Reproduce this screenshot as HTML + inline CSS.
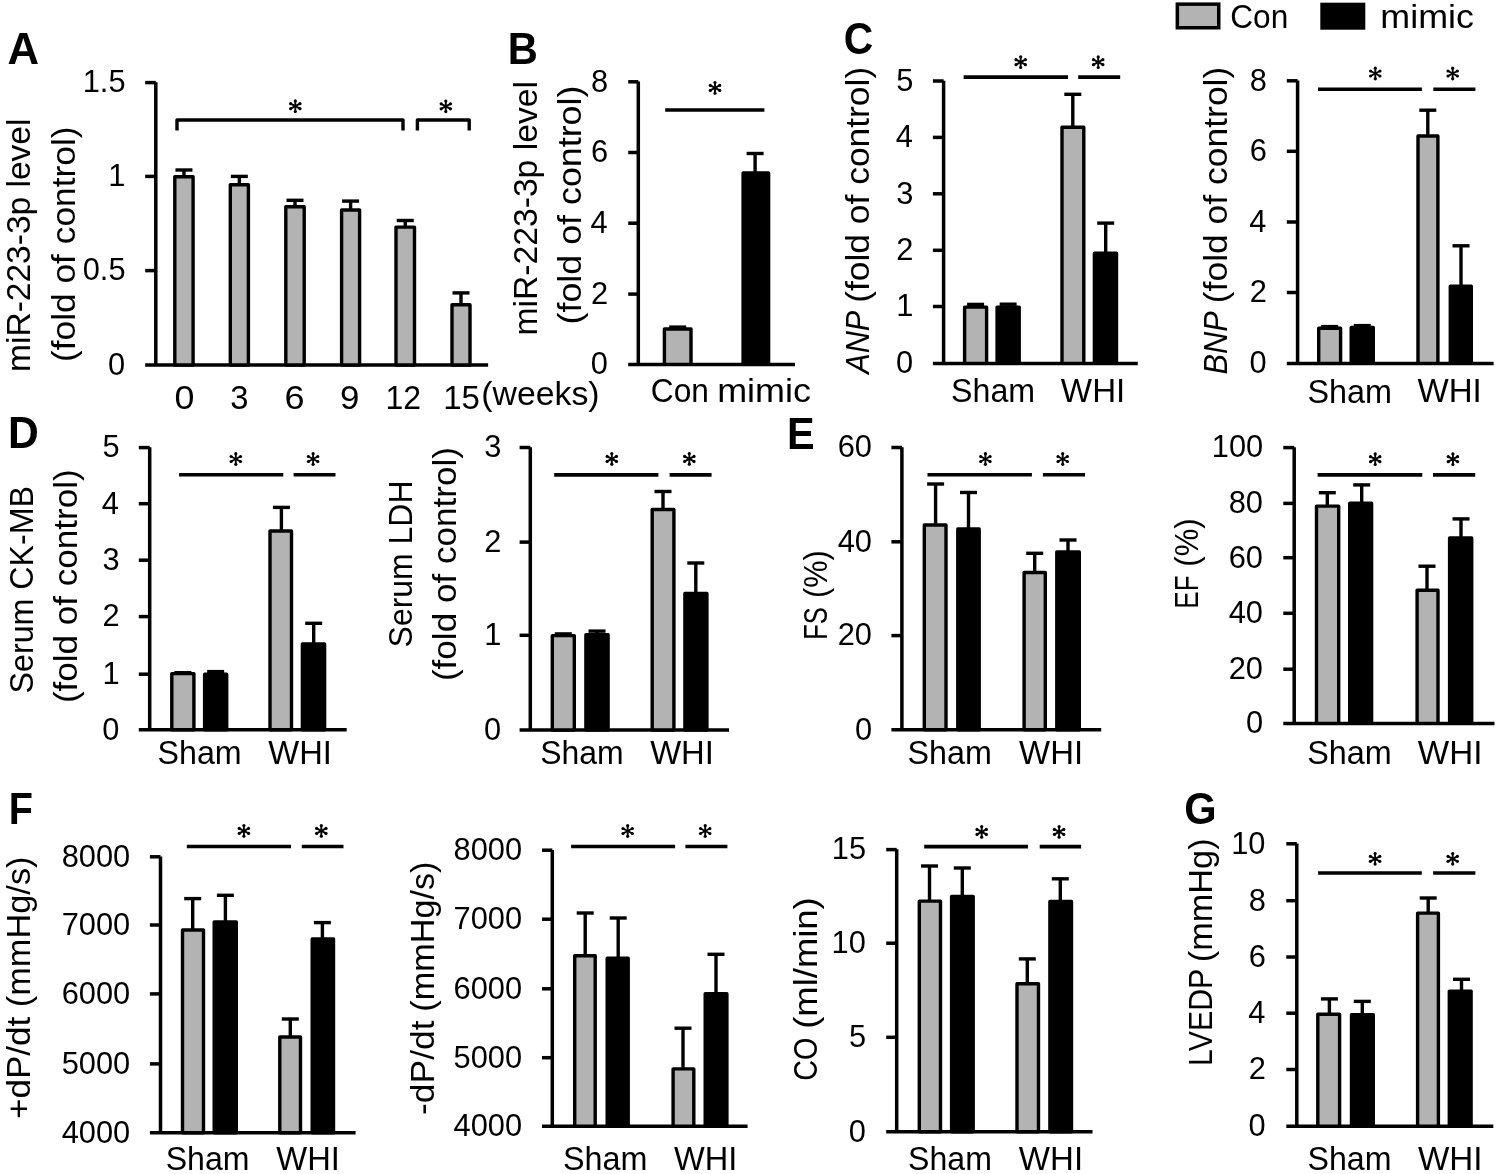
<!DOCTYPE html>
<html><head><meta charset="utf-8"><style>
html,body{margin:0;padding:0;background:#fff;}
svg{display:block;will-change:transform;}
</style></head><body>
<svg width="1497" height="1174" viewBox="0 0 1497 1174" style="font-family:'Liberation Sans', sans-serif;" fill="#000">
<text x="7.59" y="63.90" font-size="43.6" font-weight="bold" textLength="31.62" lengthAdjust="spacingAndGlyphs">A</text>
<text x="507.79" y="63.60" font-size="43.6" font-weight="bold" textLength="30.07" lengthAdjust="spacingAndGlyphs">B</text>
<text x="843.77" y="53.60" font-size="43.6" font-weight="bold" textLength="29.44" lengthAdjust="spacingAndGlyphs">C</text>
<text x="8.12" y="448.30" font-size="43.6" font-weight="bold" textLength="30.78" lengthAdjust="spacingAndGlyphs">D</text>
<text x="787.00" y="448.50" font-size="43.6" font-weight="bold" textLength="27.63" lengthAdjust="spacingAndGlyphs">E</text>
<text x="8.73" y="823.60" font-size="43.6" font-weight="bold" textLength="24.19" lengthAdjust="spacingAndGlyphs">F</text>
<text x="1184.14" y="823.60" font-size="43.6" font-weight="bold" textLength="32.37" lengthAdjust="spacingAndGlyphs">G</text>
<line stroke="#000" x1="155.80" y1="82.30" x2="155.80" y2="365.00" stroke-width="3.5" stroke-linecap="butt"/>
<line stroke="#000" x1="145.20" y1="82.60" x2="155.80" y2="82.60" stroke-width="3.5" stroke-linecap="butt"/>
<line stroke="#000" x1="145.20" y1="176.40" x2="155.80" y2="176.40" stroke-width="3.5" stroke-linecap="butt"/>
<line stroke="#000" x1="145.20" y1="270.60" x2="155.80" y2="270.60" stroke-width="3.5" stroke-linecap="butt"/>
<line stroke="#000" x1="145.20" y1="365.00" x2="488.10" y2="365.00" stroke-width="3.5" stroke-linecap="butt"/>
<text x="125.54" y="92.40" font-size="30.8" text-anchor="end">1.5</text>
<text x="125.42" y="186.20" font-size="30.8" text-anchor="end">1</text>
<text x="125.54" y="280.40" font-size="30.8" text-anchor="end">0.5</text>
<text x="125.11" y="374.80" font-size="30.8" text-anchor="end">0</text>
<line stroke="#000" x1="183.95" y1="176.10" x2="183.95" y2="170.00" stroke-width="3.4" stroke-linecap="butt"/>
<line stroke="#000" x1="175.45" y1="170.00" x2="192.45" y2="170.00" stroke-width="3.4" stroke-linecap="butt"/>
<rect x="174.80" y="176.80" width="18.30" height="188.20" fill="#b3b3b3" stroke="#000" stroke-width="3.4" stroke-linejoin="round"/>
<line stroke="#000" x1="239.35" y1="184.00" x2="239.35" y2="176.40" stroke-width="3.4" stroke-linecap="butt"/>
<line stroke="#000" x1="230.85" y1="176.40" x2="247.85" y2="176.40" stroke-width="3.4" stroke-linecap="butt"/>
<rect x="230.30" y="184.70" width="18.10" height="180.30" fill="#b3b3b3" stroke="#000" stroke-width="3.4" stroke-linejoin="round"/>
<line stroke="#000" x1="295.00" y1="206.10" x2="295.00" y2="200.30" stroke-width="3.4" stroke-linecap="butt"/>
<line stroke="#000" x1="286.50" y1="200.30" x2="303.50" y2="200.30" stroke-width="3.4" stroke-linecap="butt"/>
<rect x="285.80" y="206.80" width="18.40" height="158.20" fill="#b3b3b3" stroke="#000" stroke-width="3.4" stroke-linejoin="round"/>
<line stroke="#000" x1="350.60" y1="209.30" x2="350.60" y2="201.10" stroke-width="3.4" stroke-linecap="butt"/>
<line stroke="#000" x1="342.10" y1="201.10" x2="359.10" y2="201.10" stroke-width="3.4" stroke-linecap="butt"/>
<rect x="341.60" y="210.00" width="18.00" height="155.00" fill="#b3b3b3" stroke="#000" stroke-width="3.4" stroke-linejoin="round"/>
<line stroke="#000" x1="405.25" y1="226.40" x2="405.25" y2="220.50" stroke-width="3.4" stroke-linecap="butt"/>
<line stroke="#000" x1="396.75" y1="220.50" x2="413.75" y2="220.50" stroke-width="3.4" stroke-linecap="butt"/>
<rect x="396.00" y="227.10" width="18.50" height="137.90" fill="#b3b3b3" stroke="#000" stroke-width="3.4" stroke-linejoin="round"/>
<line stroke="#000" x1="461.00" y1="304.00" x2="461.00" y2="292.90" stroke-width="3.4" stroke-linecap="butt"/>
<line stroke="#000" x1="452.50" y1="292.90" x2="469.50" y2="292.90" stroke-width="3.4" stroke-linecap="butt"/>
<rect x="452.00" y="304.70" width="18.00" height="60.30" fill="#b3b3b3" stroke="#000" stroke-width="3.4" stroke-linejoin="round"/>
<path d="M177,130.6 V120 H403 V130.6" fill="none" stroke="#000" stroke-width="3.4" stroke-linejoin="round"/>
<path d="M417.4,130.6 V120 H469.2 V130.6" fill="none" stroke="#000" stroke-width="3.4" stroke-linejoin="round"/>
<line stroke="#000" x1="295.30" y1="100.90" x2="295.30" y2="111.50" stroke-width="1.9" stroke-linecap="round"/>
<circle cx="295.30" cy="100.90" r="1.6"/><circle cx="295.30" cy="111.50" r="1.6"/>
<line stroke="#000" x1="290.62" y1="103.71" x2="299.98" y2="108.69" stroke-width="1.9" stroke-linecap="round"/>
<circle cx="290.62" cy="103.71" r="1.6"/><circle cx="299.98" cy="108.69" r="1.6"/>
<line stroke="#000" x1="290.62" y1="108.69" x2="299.98" y2="103.71" stroke-width="1.9" stroke-linecap="round"/>
<circle cx="290.62" cy="108.69" r="1.6"/><circle cx="299.98" cy="103.71" r="1.6"/>
<line stroke="#000" x1="445.80" y1="101.00" x2="445.80" y2="111.60" stroke-width="1.9" stroke-linecap="round"/>
<circle cx="445.80" cy="101.00" r="1.6"/><circle cx="445.80" cy="111.60" r="1.6"/>
<line stroke="#000" x1="441.12" y1="103.81" x2="450.48" y2="108.79" stroke-width="1.9" stroke-linecap="round"/>
<circle cx="441.12" cy="103.81" r="1.6"/><circle cx="450.48" cy="108.79" r="1.6"/>
<line stroke="#000" x1="441.12" y1="108.79" x2="450.48" y2="103.81" stroke-width="1.9" stroke-linecap="round"/>
<circle cx="441.12" cy="108.79" r="1.6"/><circle cx="450.48" cy="103.81" r="1.6"/>
<text x="174.57" y="408.60" font-size="33" textLength="19.93" lengthAdjust="spacingAndGlyphs">0</text>
<text x="230.29" y="408.60" font-size="33" textLength="18.22" lengthAdjust="spacingAndGlyphs">3</text>
<text x="284.50" y="408.60" font-size="33" textLength="20.07" lengthAdjust="spacingAndGlyphs">6</text>
<text x="339.96" y="408.60" font-size="33" textLength="19.34" lengthAdjust="spacingAndGlyphs">9</text>
<text x="385.44" y="408.60" font-size="33" textLength="35.61" lengthAdjust="spacingAndGlyphs">12</text>
<text x="443.16" y="408.60" font-size="33" textLength="36.74" lengthAdjust="spacingAndGlyphs">15</text>
<text x="481.37" y="405.00" font-size="33" textLength="118.26" lengthAdjust="spacingAndGlyphs">(weeks)</text>
<text transform="translate(30.40,369.60) rotate(-90)" x="-2.35" y="0" font-size="34" textLength="253.40" lengthAdjust="spacingAndGlyphs">miR-223-3p level</text>
<text transform="translate(74.70,360.00) rotate(-90)" x="-2.12" y="0" font-size="34" textLength="235.70" lengthAdjust="spacingAndGlyphs">(fold of control)</text>
<line stroke="#000" x1="638.30" y1="81.50" x2="638.30" y2="364.40" stroke-width="3.5" stroke-linecap="butt"/>
<line stroke="#000" x1="628.20" y1="81.80" x2="638.30" y2="81.80" stroke-width="3.5" stroke-linecap="butt"/>
<line stroke="#000" x1="628.20" y1="152.50" x2="638.30" y2="152.50" stroke-width="3.5" stroke-linecap="butt"/>
<line stroke="#000" x1="628.20" y1="223.20" x2="638.30" y2="223.20" stroke-width="3.5" stroke-linecap="butt"/>
<line stroke="#000" x1="628.20" y1="294.10" x2="638.30" y2="294.10" stroke-width="3.5" stroke-linecap="butt"/>
<line stroke="#000" x1="628.20" y1="364.40" x2="795.00" y2="364.40" stroke-width="3.5" stroke-linecap="butt"/>
<text x="608.22" y="91.60" font-size="30.8" text-anchor="end">8</text>
<text x="608.22" y="162.30" font-size="30.8" text-anchor="end">6</text>
<text x="607.60" y="233.00" font-size="30.8" text-anchor="end">4</text>
<text x="608.22" y="303.90" font-size="30.8" text-anchor="end">2</text>
<text x="607.91" y="374.20" font-size="30.8" text-anchor="end">0</text>
<line stroke="#000" x1="677.70" y1="328.30" x2="677.70" y2="327.10" stroke-width="3.4" stroke-linecap="butt"/>
<line stroke="#000" x1="669.20" y1="327.10" x2="686.20" y2="327.10" stroke-width="3.4" stroke-linecap="butt"/>
<rect x="664.40" y="329.00" width="26.60" height="35.40" fill="#b3b3b3" stroke="#000" stroke-width="3.4" stroke-linejoin="round"/>
<line stroke="#000" x1="755.10" y1="172.20" x2="755.10" y2="153.50" stroke-width="3.4" stroke-linecap="butt"/>
<line stroke="#000" x1="746.60" y1="153.50" x2="763.60" y2="153.50" stroke-width="3.4" stroke-linecap="butt"/>
<rect x="743.10" y="172.90" width="25.50" height="191.50" fill="#000" stroke="#000" stroke-width="3.4" stroke-linejoin="round"/>
<line stroke="#000" x1="665.20" y1="110.00" x2="764.40" y2="110.00" stroke-width="3.6" stroke-linecap="butt"/>
<line stroke="#000" x1="715.00" y1="82.60" x2="715.00" y2="93.20" stroke-width="1.9" stroke-linecap="round"/>
<circle cx="715.00" cy="82.60" r="1.6"/><circle cx="715.00" cy="93.20" r="1.6"/>
<line stroke="#000" x1="710.32" y1="85.41" x2="719.68" y2="90.39" stroke-width="1.9" stroke-linecap="round"/>
<circle cx="710.32" cy="85.41" r="1.6"/><circle cx="719.68" cy="90.39" r="1.6"/>
<line stroke="#000" x1="710.32" y1="90.39" x2="719.68" y2="85.41" stroke-width="1.9" stroke-linecap="round"/>
<circle cx="710.32" cy="90.39" r="1.6"/><circle cx="719.68" cy="85.41" r="1.6"/>
<text x="650.82" y="402.30" font-size="33" textLength="58.12" lengthAdjust="spacingAndGlyphs">Con</text>
<text x="717.18" y="402.30" font-size="33" textLength="93.80" lengthAdjust="spacingAndGlyphs">mimic</text>
<text transform="translate(537.10,333.20) rotate(-90)" x="-2.36" y="0" font-size="34" textLength="254.51" lengthAdjust="spacingAndGlyphs">miR-223-3p level</text>
<text transform="translate(581.40,322.30) rotate(-90)" x="-2.15" y="0" font-size="34" textLength="238.86" lengthAdjust="spacingAndGlyphs">(fold of control)</text>
<line stroke="#000" x1="943.60" y1="80.70" x2="943.60" y2="363.40" stroke-width="3.5" stroke-linecap="butt"/>
<line stroke="#000" x1="932.90" y1="81.00" x2="943.60" y2="81.00" stroke-width="3.5" stroke-linecap="butt"/>
<line stroke="#000" x1="932.90" y1="137.40" x2="943.60" y2="137.40" stroke-width="3.5" stroke-linecap="butt"/>
<line stroke="#000" x1="932.90" y1="193.80" x2="943.60" y2="193.80" stroke-width="3.5" stroke-linecap="butt"/>
<line stroke="#000" x1="932.90" y1="250.30" x2="943.60" y2="250.30" stroke-width="3.5" stroke-linecap="butt"/>
<line stroke="#000" x1="932.90" y1="306.50" x2="943.60" y2="306.50" stroke-width="3.5" stroke-linecap="butt"/>
<line stroke="#000" x1="932.90" y1="363.40" x2="1137.80" y2="363.40" stroke-width="3.5" stroke-linecap="butt"/>
<text x="913.42" y="90.80" font-size="30.8" text-anchor="end">5</text>
<text x="912.80" y="147.20" font-size="30.8" text-anchor="end">4</text>
<text x="913.42" y="203.60" font-size="30.8" text-anchor="end">3</text>
<text x="913.42" y="260.10" font-size="30.8" text-anchor="end">2</text>
<text x="913.42" y="316.30" font-size="30.8" text-anchor="end">1</text>
<text x="913.11" y="373.20" font-size="30.8" text-anchor="end">0</text>
<line stroke="#000" x1="975.60" y1="306.40" x2="975.60" y2="304.40" stroke-width="3.4" stroke-linecap="butt"/>
<line stroke="#000" x1="967.10" y1="304.40" x2="984.10" y2="304.40" stroke-width="3.4" stroke-linecap="butt"/>
<rect x="964.60" y="307.10" width="22.00" height="56.30" fill="#b3b3b3" stroke="#000" stroke-width="3.4" stroke-linejoin="round"/>
<line stroke="#000" x1="1008.15" y1="306.40" x2="1008.15" y2="304.20" stroke-width="3.4" stroke-linecap="butt"/>
<line stroke="#000" x1="999.65" y1="304.20" x2="1016.65" y2="304.20" stroke-width="3.4" stroke-linecap="butt"/>
<rect x="997.10" y="307.10" width="22.10" height="56.30" fill="#000" stroke="#000" stroke-width="3.4" stroke-linejoin="round"/>
<line stroke="#000" x1="1072.80" y1="126.50" x2="1072.80" y2="94.30" stroke-width="3.4" stroke-linecap="butt"/>
<line stroke="#000" x1="1064.30" y1="94.30" x2="1081.30" y2="94.30" stroke-width="3.4" stroke-linecap="butt"/>
<rect x="1062.00" y="127.20" width="21.80" height="236.20" fill="#b3b3b3" stroke="#000" stroke-width="3.4" stroke-linejoin="round"/>
<line stroke="#000" x1="1105.70" y1="252.50" x2="1105.70" y2="223.10" stroke-width="3.4" stroke-linecap="butt"/>
<line stroke="#000" x1="1097.20" y1="223.10" x2="1114.20" y2="223.10" stroke-width="3.4" stroke-linecap="butt"/>
<rect x="1094.40" y="253.20" width="22.10" height="110.20" fill="#000" stroke="#000" stroke-width="3.4" stroke-linejoin="round"/>
<line stroke="#000" x1="963.60" y1="77.10" x2="1068.00" y2="77.10" stroke-width="3.6" stroke-linecap="butt"/>
<line stroke="#000" x1="1078.20" y1="77.10" x2="1120.20" y2="77.10" stroke-width="3.6" stroke-linecap="butt"/>
<line stroke="#000" x1="1020.70" y1="56.90" x2="1020.70" y2="67.50" stroke-width="1.9" stroke-linecap="round"/>
<circle cx="1020.70" cy="56.90" r="1.6"/><circle cx="1020.70" cy="67.50" r="1.6"/>
<line stroke="#000" x1="1016.02" y1="59.71" x2="1025.38" y2="64.69" stroke-width="1.9" stroke-linecap="round"/>
<circle cx="1016.02" cy="59.71" r="1.6"/><circle cx="1025.38" cy="64.69" r="1.6"/>
<line stroke="#000" x1="1016.02" y1="64.69" x2="1025.38" y2="59.71" stroke-width="1.9" stroke-linecap="round"/>
<circle cx="1016.02" cy="64.69" r="1.6"/><circle cx="1025.38" cy="59.71" r="1.6"/>
<line stroke="#000" x1="1098.20" y1="56.90" x2="1098.20" y2="67.50" stroke-width="1.9" stroke-linecap="round"/>
<circle cx="1098.20" cy="56.90" r="1.6"/><circle cx="1098.20" cy="67.50" r="1.6"/>
<line stroke="#000" x1="1093.52" y1="59.71" x2="1102.88" y2="64.69" stroke-width="1.9" stroke-linecap="round"/>
<circle cx="1093.52" cy="59.71" r="1.6"/><circle cx="1102.88" cy="64.69" r="1.6"/>
<line stroke="#000" x1="1093.52" y1="64.69" x2="1102.88" y2="59.71" stroke-width="1.9" stroke-linecap="round"/>
<circle cx="1093.52" cy="64.69" r="1.6"/><circle cx="1102.88" cy="59.71" r="1.6"/>
<text x="951.09" y="402.10" font-size="33" textLength="84.01" lengthAdjust="spacingAndGlyphs">Sham</text>
<text x="1060.87" y="402.20" font-size="33" textLength="64.41" lengthAdjust="spacingAndGlyphs">WHI</text>
<text transform="translate(869.30,375.30) rotate(-90)" x="1.53" y="0" font-size="34" font-style="italic" textLength="63.06" lengthAdjust="spacingAndGlyphs">ANP</text>
<text transform="translate(869.30,300.70) rotate(-90)" x="-2.12" y="0" font-size="34" textLength="236.01" lengthAdjust="spacingAndGlyphs">(fold of control)</text>
<line stroke="#000" x1="1297.60" y1="80.50" x2="1297.60" y2="363.40" stroke-width="3.5" stroke-linecap="butt"/>
<line stroke="#000" x1="1286.80" y1="80.80" x2="1297.60" y2="80.80" stroke-width="3.5" stroke-linecap="butt"/>
<line stroke="#000" x1="1286.80" y1="151.30" x2="1297.60" y2="151.30" stroke-width="3.5" stroke-linecap="butt"/>
<line stroke="#000" x1="1286.80" y1="222.00" x2="1297.60" y2="222.00" stroke-width="3.5" stroke-linecap="butt"/>
<line stroke="#000" x1="1286.80" y1="292.50" x2="1297.60" y2="292.50" stroke-width="3.5" stroke-linecap="butt"/>
<line stroke="#000" x1="1286.80" y1="363.40" x2="1493.60" y2="363.40" stroke-width="3.5" stroke-linecap="butt"/>
<text x="1266.92" y="90.60" font-size="30.8" text-anchor="end">8</text>
<text x="1266.92" y="161.10" font-size="30.8" text-anchor="end">6</text>
<text x="1266.30" y="231.80" font-size="30.8" text-anchor="end">4</text>
<text x="1266.92" y="302.30" font-size="30.8" text-anchor="end">2</text>
<text x="1266.61" y="373.20" font-size="30.8" text-anchor="end">0</text>
<line stroke="#000" x1="1329.65" y1="327.60" x2="1329.65" y2="326.60" stroke-width="3.4" stroke-linecap="butt"/>
<line stroke="#000" x1="1321.15" y1="326.60" x2="1338.15" y2="326.60" stroke-width="3.4" stroke-linecap="butt"/>
<rect x="1318.70" y="328.30" width="21.90" height="35.10" fill="#b3b3b3" stroke="#000" stroke-width="3.4" stroke-linejoin="round"/>
<line stroke="#000" x1="1362.25" y1="326.70" x2="1362.25" y2="325.60" stroke-width="3.4" stroke-linecap="butt"/>
<line stroke="#000" x1="1353.75" y1="325.60" x2="1370.75" y2="325.60" stroke-width="3.4" stroke-linecap="butt"/>
<rect x="1351.20" y="327.40" width="22.10" height="36.00" fill="#000" stroke="#000" stroke-width="3.4" stroke-linejoin="round"/>
<line stroke="#000" x1="1427.80" y1="135.30" x2="1427.80" y2="110.20" stroke-width="3.4" stroke-linecap="butt"/>
<line stroke="#000" x1="1419.30" y1="110.20" x2="1436.30" y2="110.20" stroke-width="3.4" stroke-linecap="butt"/>
<rect x="1418.00" y="136.00" width="19.90" height="227.40" fill="#b3b3b3" stroke="#000" stroke-width="3.4" stroke-linejoin="round"/>
<line stroke="#000" x1="1461.00" y1="285.40" x2="1461.00" y2="245.80" stroke-width="3.4" stroke-linecap="butt"/>
<line stroke="#000" x1="1452.50" y1="245.80" x2="1469.50" y2="245.80" stroke-width="3.4" stroke-linecap="butt"/>
<rect x="1450.30" y="286.10" width="21.00" height="77.30" fill="#000" stroke="#000" stroke-width="3.4" stroke-linejoin="round"/>
<line stroke="#000" x1="1318.00" y1="89.20" x2="1421.90" y2="89.20" stroke-width="3.6" stroke-linecap="butt"/>
<line stroke="#000" x1="1433.30" y1="89.20" x2="1475.40" y2="89.20" stroke-width="3.6" stroke-linecap="butt"/>
<line stroke="#000" x1="1375.30" y1="68.20" x2="1375.30" y2="78.80" stroke-width="1.9" stroke-linecap="round"/>
<circle cx="1375.30" cy="68.20" r="1.6"/><circle cx="1375.30" cy="78.80" r="1.6"/>
<line stroke="#000" x1="1370.62" y1="71.01" x2="1379.98" y2="75.99" stroke-width="1.9" stroke-linecap="round"/>
<circle cx="1370.62" cy="71.01" r="1.6"/><circle cx="1379.98" cy="75.99" r="1.6"/>
<line stroke="#000" x1="1370.62" y1="75.99" x2="1379.98" y2="71.01" stroke-width="1.9" stroke-linecap="round"/>
<circle cx="1370.62" cy="75.99" r="1.6"/><circle cx="1379.98" cy="71.01" r="1.6"/>
<line stroke="#000" x1="1452.70" y1="68.20" x2="1452.70" y2="78.80" stroke-width="1.9" stroke-linecap="round"/>
<circle cx="1452.70" cy="68.20" r="1.6"/><circle cx="1452.70" cy="78.80" r="1.6"/>
<line stroke="#000" x1="1448.02" y1="71.01" x2="1457.38" y2="75.99" stroke-width="1.9" stroke-linecap="round"/>
<circle cx="1448.02" cy="71.01" r="1.6"/><circle cx="1457.38" cy="75.99" r="1.6"/>
<line stroke="#000" x1="1448.02" y1="75.99" x2="1457.38" y2="71.01" stroke-width="1.9" stroke-linecap="round"/>
<circle cx="1448.02" cy="75.99" r="1.6"/><circle cx="1457.38" cy="71.01" r="1.6"/>
<text x="1307.38" y="402.60" font-size="33" textLength="84.53" lengthAdjust="spacingAndGlyphs">Sham</text>
<text x="1417.47" y="402.20" font-size="33" textLength="64.31" lengthAdjust="spacingAndGlyphs">WHI</text>
<text transform="translate(1226.60,373.50) rotate(-90)" x="-0.92" y="0" font-size="34" font-style="italic" textLength="63.11" lengthAdjust="spacingAndGlyphs">BNP</text>
<text transform="translate(1226.60,301.10) rotate(-90)" x="-2.13" y="0" font-size="34" textLength="236.52" lengthAdjust="spacingAndGlyphs">(fold of control)</text>
<rect x="1177.35" y="4.15" width="41.4" height="23.6" fill="#b3b3b3" stroke="#000" stroke-width="3.5"/>
<text x="1230.22" y="28.40" font-size="33" textLength="58.02" lengthAdjust="spacingAndGlyphs">Con</text>
<rect x="1320.3" y="2.7" width="45" height="27" fill="#000"/>
<text x="1380.39" y="28.40" font-size="33" textLength="93.60" lengthAdjust="spacingAndGlyphs">mimic</text>
<line stroke="#000" x1="149.70" y1="447.30" x2="149.70" y2="729.80" stroke-width="3.5" stroke-linecap="butt"/>
<line stroke="#000" x1="138.80" y1="447.60" x2="149.70" y2="447.60" stroke-width="3.5" stroke-linecap="butt"/>
<line stroke="#000" x1="138.80" y1="503.70" x2="149.70" y2="503.70" stroke-width="3.5" stroke-linecap="butt"/>
<line stroke="#000" x1="138.80" y1="560.20" x2="149.70" y2="560.20" stroke-width="3.5" stroke-linecap="butt"/>
<line stroke="#000" x1="138.80" y1="616.60" x2="149.70" y2="616.60" stroke-width="3.5" stroke-linecap="butt"/>
<line stroke="#000" x1="138.80" y1="674.20" x2="149.70" y2="674.20" stroke-width="3.5" stroke-linecap="butt"/>
<line stroke="#000" x1="138.80" y1="729.80" x2="346.70" y2="729.80" stroke-width="3.5" stroke-linecap="butt"/>
<text x="119.62" y="457.40" font-size="30.8" text-anchor="end">5</text>
<text x="119.00" y="513.50" font-size="30.8" text-anchor="end">4</text>
<text x="119.62" y="570.00" font-size="30.8" text-anchor="end">3</text>
<text x="119.62" y="626.40" font-size="30.8" text-anchor="end">2</text>
<text x="119.62" y="684.00" font-size="30.8" text-anchor="end">1</text>
<text x="119.31" y="739.60" font-size="30.8" text-anchor="end">0</text>
<line stroke="#000" x1="182.85" y1="672.90" x2="182.85" y2="672.70" stroke-width="3.4" stroke-linecap="butt"/>
<line stroke="#000" x1="174.35" y1="672.70" x2="191.35" y2="672.70" stroke-width="3.4" stroke-linecap="butt"/>
<rect x="171.80" y="673.60" width="22.10" height="56.20" fill="#b3b3b3" stroke="#000" stroke-width="3.4" stroke-linejoin="round"/>
<line stroke="#000" x1="215.65" y1="673.60" x2="215.65" y2="671.60" stroke-width="3.4" stroke-linecap="butt"/>
<line stroke="#000" x1="207.15" y1="671.60" x2="224.15" y2="671.60" stroke-width="3.4" stroke-linecap="butt"/>
<rect x="204.60" y="674.30" width="22.10" height="55.50" fill="#000" stroke="#000" stroke-width="3.4" stroke-linejoin="round"/>
<line stroke="#000" x1="281.40" y1="530.30" x2="281.40" y2="507.40" stroke-width="3.4" stroke-linecap="butt"/>
<line stroke="#000" x1="272.90" y1="507.40" x2="289.90" y2="507.40" stroke-width="3.4" stroke-linecap="butt"/>
<rect x="270.00" y="531.00" width="21.50" height="198.80" fill="#b3b3b3" stroke="#000" stroke-width="3.4" stroke-linejoin="round"/>
<line stroke="#000" x1="313.70" y1="643.20" x2="313.70" y2="623.30" stroke-width="3.4" stroke-linecap="butt"/>
<line stroke="#000" x1="305.20" y1="623.30" x2="322.20" y2="623.30" stroke-width="3.4" stroke-linecap="butt"/>
<rect x="302.40" y="643.90" width="22.20" height="85.90" fill="#000" stroke="#000" stroke-width="3.4" stroke-linejoin="round"/>
<line stroke="#000" x1="179.10" y1="474.80" x2="283.30" y2="474.80" stroke-width="3.6" stroke-linecap="butt"/>
<line stroke="#000" x1="293.60" y1="474.80" x2="335.50" y2="474.80" stroke-width="3.6" stroke-linecap="butt"/>
<line stroke="#000" x1="235.80" y1="453.70" x2="235.80" y2="464.30" stroke-width="1.9" stroke-linecap="round"/>
<circle cx="235.80" cy="453.70" r="1.6"/><circle cx="235.80" cy="464.30" r="1.6"/>
<line stroke="#000" x1="231.12" y1="456.51" x2="240.48" y2="461.49" stroke-width="1.9" stroke-linecap="round"/>
<circle cx="231.12" cy="456.51" r="1.6"/><circle cx="240.48" cy="461.49" r="1.6"/>
<line stroke="#000" x1="231.12" y1="461.49" x2="240.48" y2="456.51" stroke-width="1.9" stroke-linecap="round"/>
<circle cx="231.12" cy="461.49" r="1.6"/><circle cx="240.48" cy="456.51" r="1.6"/>
<line stroke="#000" x1="313.10" y1="453.70" x2="313.10" y2="464.30" stroke-width="1.9" stroke-linecap="round"/>
<circle cx="313.10" cy="453.70" r="1.6"/><circle cx="313.10" cy="464.30" r="1.6"/>
<line stroke="#000" x1="308.42" y1="456.51" x2="317.78" y2="461.49" stroke-width="1.9" stroke-linecap="round"/>
<circle cx="308.42" cy="456.51" r="1.6"/><circle cx="317.78" cy="461.49" r="1.6"/>
<line stroke="#000" x1="308.42" y1="461.49" x2="317.78" y2="456.51" stroke-width="1.9" stroke-linecap="round"/>
<circle cx="308.42" cy="461.49" r="1.6"/><circle cx="317.78" cy="456.51" r="1.6"/>
<text x="157.49" y="763.90" font-size="33" textLength="84.22" lengthAdjust="spacingAndGlyphs">Sham</text>
<text x="268.37" y="764.00" font-size="33" textLength="63.57" lengthAdjust="spacingAndGlyphs">WHI</text>
<text transform="translate(32.90,691.80) rotate(-90)" x="-1.61" y="0" font-size="34" textLength="207.49" lengthAdjust="spacingAndGlyphs">Serum CK-MB</text>
<text transform="translate(77.20,701.00) rotate(-90)" x="-2.10" y="0" font-size="34" textLength="233.77" lengthAdjust="spacingAndGlyphs">(fold of control)</text>
<line stroke="#000" x1="530.30" y1="447.20" x2="530.30" y2="730.00" stroke-width="3.5" stroke-linecap="butt"/>
<line stroke="#000" x1="519.60" y1="447.50" x2="530.30" y2="447.50" stroke-width="3.5" stroke-linecap="butt"/>
<line stroke="#000" x1="519.60" y1="542.10" x2="530.30" y2="542.10" stroke-width="3.5" stroke-linecap="butt"/>
<line stroke="#000" x1="519.60" y1="635.30" x2="530.30" y2="635.30" stroke-width="3.5" stroke-linecap="butt"/>
<line stroke="#000" x1="519.60" y1="730.00" x2="729.00" y2="730.00" stroke-width="3.5" stroke-linecap="butt"/>
<text x="501.42" y="457.30" font-size="30.8" text-anchor="end">3</text>
<text x="501.42" y="551.90" font-size="30.8" text-anchor="end">2</text>
<text x="501.42" y="645.10" font-size="30.8" text-anchor="end">1</text>
<text x="501.11" y="739.80" font-size="30.8" text-anchor="end">0</text>
<line stroke="#000" x1="563.30" y1="634.90" x2="563.30" y2="633.90" stroke-width="3.4" stroke-linecap="butt"/>
<line stroke="#000" x1="554.80" y1="633.90" x2="571.80" y2="633.90" stroke-width="3.4" stroke-linecap="butt"/>
<rect x="552.30" y="635.60" width="22.00" height="94.40" fill="#b3b3b3" stroke="#000" stroke-width="3.4" stroke-linejoin="round"/>
<line stroke="#000" x1="597.00" y1="634.10" x2="597.00" y2="631.10" stroke-width="3.4" stroke-linecap="butt"/>
<line stroke="#000" x1="588.50" y1="631.10" x2="605.50" y2="631.10" stroke-width="3.4" stroke-linecap="butt"/>
<rect x="585.90" y="634.80" width="22.20" height="95.20" fill="#000" stroke="#000" stroke-width="3.4" stroke-linejoin="round"/>
<line stroke="#000" x1="663.00" y1="508.80" x2="663.00" y2="491.50" stroke-width="3.4" stroke-linecap="butt"/>
<line stroke="#000" x1="654.50" y1="491.50" x2="671.50" y2="491.50" stroke-width="3.4" stroke-linecap="butt"/>
<rect x="652.20" y="509.50" width="21.70" height="220.50" fill="#b3b3b3" stroke="#000" stroke-width="3.4" stroke-linejoin="round"/>
<line stroke="#000" x1="695.80" y1="592.70" x2="695.80" y2="563.00" stroke-width="3.4" stroke-linecap="butt"/>
<line stroke="#000" x1="687.30" y1="563.00" x2="704.30" y2="563.00" stroke-width="3.4" stroke-linecap="butt"/>
<rect x="684.90" y="593.40" width="22.00" height="136.60" fill="#000" stroke="#000" stroke-width="3.4" stroke-linejoin="round"/>
<line stroke="#000" x1="554.20" y1="474.90" x2="658.40" y2="474.90" stroke-width="3.6" stroke-linecap="butt"/>
<line stroke="#000" x1="669.60" y1="474.90" x2="711.60" y2="474.90" stroke-width="3.6" stroke-linecap="butt"/>
<line stroke="#000" x1="611.80" y1="453.60" x2="611.80" y2="464.20" stroke-width="1.9" stroke-linecap="round"/>
<circle cx="611.80" cy="453.60" r="1.6"/><circle cx="611.80" cy="464.20" r="1.6"/>
<line stroke="#000" x1="607.12" y1="456.41" x2="616.48" y2="461.39" stroke-width="1.9" stroke-linecap="round"/>
<circle cx="607.12" cy="456.41" r="1.6"/><circle cx="616.48" cy="461.39" r="1.6"/>
<line stroke="#000" x1="607.12" y1="461.39" x2="616.48" y2="456.41" stroke-width="1.9" stroke-linecap="round"/>
<circle cx="607.12" cy="461.39" r="1.6"/><circle cx="616.48" cy="456.41" r="1.6"/>
<line stroke="#000" x1="689.30" y1="453.60" x2="689.30" y2="464.20" stroke-width="1.9" stroke-linecap="round"/>
<circle cx="689.30" cy="453.60" r="1.6"/><circle cx="689.30" cy="464.20" r="1.6"/>
<line stroke="#000" x1="684.62" y1="456.41" x2="693.98" y2="461.39" stroke-width="1.9" stroke-linecap="round"/>
<circle cx="684.62" cy="456.41" r="1.6"/><circle cx="693.98" cy="461.39" r="1.6"/>
<line stroke="#000" x1="684.62" y1="461.39" x2="693.98" y2="456.41" stroke-width="1.9" stroke-linecap="round"/>
<circle cx="684.62" cy="461.39" r="1.6"/><circle cx="693.98" cy="456.41" r="1.6"/>
<text x="540.20" y="764.00" font-size="33" textLength="83.49" lengthAdjust="spacingAndGlyphs">Sham</text>
<text x="650.17" y="764.00" font-size="33" textLength="63.78" lengthAdjust="spacingAndGlyphs">WHI</text>
<text transform="translate(412.10,645.80) rotate(-90)" x="-1.60" y="0" font-size="34" textLength="166.86" lengthAdjust="spacingAndGlyphs">Serum LDH</text>
<text transform="translate(456.20,679.00) rotate(-90)" x="-2.11" y="0" font-size="34" textLength="234.07" lengthAdjust="spacingAndGlyphs">(fold of control)</text>
<line stroke="#000" x1="901.90" y1="447.20" x2="901.90" y2="729.70" stroke-width="3.5" stroke-linecap="butt"/>
<line stroke="#000" x1="891.40" y1="447.50" x2="901.90" y2="447.50" stroke-width="3.5" stroke-linecap="butt"/>
<line stroke="#000" x1="891.40" y1="541.80" x2="901.90" y2="541.80" stroke-width="3.5" stroke-linecap="butt"/>
<line stroke="#000" x1="891.40" y1="635.60" x2="901.90" y2="635.60" stroke-width="3.5" stroke-linecap="butt"/>
<line stroke="#000" x1="891.40" y1="729.70" x2="1101.20" y2="729.70" stroke-width="3.5" stroke-linecap="butt"/>
<text x="871.99" y="457.30" font-size="30.8" text-anchor="end">60</text>
<text x="871.99" y="551.60" font-size="30.8" text-anchor="end">40</text>
<text x="871.99" y="645.40" font-size="30.8" text-anchor="end">20</text>
<text x="872.11" y="739.50" font-size="30.8" text-anchor="end">0</text>
<line stroke="#000" x1="935.60" y1="524.30" x2="935.60" y2="484.00" stroke-width="3.4" stroke-linecap="butt"/>
<line stroke="#000" x1="927.10" y1="484.00" x2="944.10" y2="484.00" stroke-width="3.4" stroke-linecap="butt"/>
<rect x="924.30" y="525.00" width="21.70" height="204.70" fill="#b3b3b3" stroke="#000" stroke-width="3.4" stroke-linejoin="round"/>
<line stroke="#000" x1="968.50" y1="528.30" x2="968.50" y2="492.50" stroke-width="3.4" stroke-linecap="butt"/>
<line stroke="#000" x1="960.00" y1="492.50" x2="977.00" y2="492.50" stroke-width="3.4" stroke-linecap="butt"/>
<rect x="957.80" y="529.00" width="21.40" height="200.70" fill="#000" stroke="#000" stroke-width="3.4" stroke-linejoin="round"/>
<line stroke="#000" x1="1034.70" y1="571.80" x2="1034.70" y2="553.30" stroke-width="3.4" stroke-linecap="butt"/>
<line stroke="#000" x1="1026.20" y1="553.30" x2="1043.20" y2="553.30" stroke-width="3.4" stroke-linecap="butt"/>
<rect x="1024.10" y="572.50" width="21.20" height="157.20" fill="#b3b3b3" stroke="#000" stroke-width="3.4" stroke-linejoin="round"/>
<line stroke="#000" x1="1068.00" y1="551.20" x2="1068.00" y2="540.00" stroke-width="3.4" stroke-linecap="butt"/>
<line stroke="#000" x1="1059.50" y1="540.00" x2="1076.50" y2="540.00" stroke-width="3.4" stroke-linecap="butt"/>
<rect x="1056.80" y="551.90" width="22.50" height="177.80" fill="#000" stroke="#000" stroke-width="3.4" stroke-linejoin="round"/>
<line stroke="#000" x1="927.50" y1="474.80" x2="1031.90" y2="474.80" stroke-width="3.6" stroke-linecap="butt"/>
<line stroke="#000" x1="1042.90" y1="474.80" x2="1085.00" y2="474.80" stroke-width="3.6" stroke-linecap="butt"/>
<line stroke="#000" x1="985.40" y1="453.70" x2="985.40" y2="464.30" stroke-width="1.9" stroke-linecap="round"/>
<circle cx="985.40" cy="453.70" r="1.6"/><circle cx="985.40" cy="464.30" r="1.6"/>
<line stroke="#000" x1="980.72" y1="456.51" x2="990.08" y2="461.49" stroke-width="1.9" stroke-linecap="round"/>
<circle cx="980.72" cy="456.51" r="1.6"/><circle cx="990.08" cy="461.49" r="1.6"/>
<line stroke="#000" x1="980.72" y1="461.49" x2="990.08" y2="456.51" stroke-width="1.9" stroke-linecap="round"/>
<circle cx="980.72" cy="461.49" r="1.6"/><circle cx="990.08" cy="456.51" r="1.6"/>
<line stroke="#000" x1="1062.70" y1="453.70" x2="1062.70" y2="464.30" stroke-width="1.9" stroke-linecap="round"/>
<circle cx="1062.70" cy="453.70" r="1.6"/><circle cx="1062.70" cy="464.30" r="1.6"/>
<line stroke="#000" x1="1058.02" y1="456.51" x2="1067.38" y2="461.49" stroke-width="1.9" stroke-linecap="round"/>
<circle cx="1058.02" cy="456.51" r="1.6"/><circle cx="1067.38" cy="461.49" r="1.6"/>
<line stroke="#000" x1="1058.02" y1="461.49" x2="1067.38" y2="456.51" stroke-width="1.9" stroke-linecap="round"/>
<circle cx="1058.02" cy="461.49" r="1.6"/><circle cx="1067.38" cy="456.51" r="1.6"/>
<text x="907.59" y="764.40" font-size="33" textLength="84.32" lengthAdjust="spacingAndGlyphs">Sham</text>
<text x="1019.07" y="764.40" font-size="33" textLength="63.99" lengthAdjust="spacingAndGlyphs">WHI</text>
<text transform="translate(827.30,637.80) rotate(-90)" x="-2.05" y="0" font-size="34" textLength="32.67" lengthAdjust="spacingAndGlyphs">FS</text>
<text transform="translate(827.30,596.20) rotate(-90)" x="-1.85" y="0" font-size="34" textLength="47.85" lengthAdjust="spacingAndGlyphs">(%)</text>
<line stroke="#000" x1="1294.20" y1="447.30" x2="1294.20" y2="723.40" stroke-width="3.5" stroke-linecap="butt"/>
<line stroke="#000" x1="1283.30" y1="447.60" x2="1294.20" y2="447.60" stroke-width="3.5" stroke-linecap="butt"/>
<line stroke="#000" x1="1283.30" y1="503.40" x2="1294.20" y2="503.40" stroke-width="3.5" stroke-linecap="butt"/>
<line stroke="#000" x1="1283.30" y1="557.70" x2="1294.20" y2="557.70" stroke-width="3.5" stroke-linecap="butt"/>
<line stroke="#000" x1="1283.30" y1="613.30" x2="1294.20" y2="613.30" stroke-width="3.5" stroke-linecap="butt"/>
<line stroke="#000" x1="1283.30" y1="669.20" x2="1294.20" y2="669.20" stroke-width="3.5" stroke-linecap="butt"/>
<line stroke="#000" x1="1283.30" y1="723.40" x2="1494.50" y2="723.40" stroke-width="3.5" stroke-linecap="butt"/>
<text x="1263.18" y="457.40" font-size="30.8" text-anchor="end">100</text>
<text x="1262.99" y="513.20" font-size="30.8" text-anchor="end">80</text>
<text x="1262.99" y="567.50" font-size="30.8" text-anchor="end">60</text>
<text x="1262.99" y="623.10" font-size="30.8" text-anchor="end">40</text>
<text x="1262.99" y="679.00" font-size="30.8" text-anchor="end">20</text>
<text x="1263.11" y="733.20" font-size="30.8" text-anchor="end">0</text>
<line stroke="#000" x1="1327.30" y1="505.40" x2="1327.30" y2="492.70" stroke-width="3.4" stroke-linecap="butt"/>
<line stroke="#000" x1="1318.80" y1="492.70" x2="1335.80" y2="492.70" stroke-width="3.4" stroke-linecap="butt"/>
<rect x="1316.50" y="506.10" width="22.20" height="217.30" fill="#b3b3b3" stroke="#000" stroke-width="3.4" stroke-linejoin="round"/>
<line stroke="#000" x1="1361.70" y1="502.60" x2="1361.70" y2="484.90" stroke-width="3.4" stroke-linecap="butt"/>
<line stroke="#000" x1="1353.20" y1="484.90" x2="1370.20" y2="484.90" stroke-width="3.4" stroke-linecap="butt"/>
<rect x="1349.70" y="503.30" width="21.90" height="220.10" fill="#000" stroke="#000" stroke-width="3.4" stroke-linejoin="round"/>
<line stroke="#000" x1="1427.00" y1="589.60" x2="1427.00" y2="566.20" stroke-width="3.4" stroke-linecap="butt"/>
<line stroke="#000" x1="1418.50" y1="566.20" x2="1435.50" y2="566.20" stroke-width="3.4" stroke-linecap="butt"/>
<rect x="1417.10" y="590.30" width="20.90" height="133.10" fill="#b3b3b3" stroke="#000" stroke-width="3.4" stroke-linejoin="round"/>
<line stroke="#000" x1="1461.00" y1="537.20" x2="1461.00" y2="518.90" stroke-width="3.4" stroke-linecap="butt"/>
<line stroke="#000" x1="1452.50" y1="518.90" x2="1469.50" y2="518.90" stroke-width="3.4" stroke-linecap="butt"/>
<rect x="1449.60" y="537.90" width="22.10" height="185.50" fill="#000" stroke="#000" stroke-width="3.4" stroke-linejoin="round"/>
<line stroke="#000" x1="1317.60" y1="474.90" x2="1422.30" y2="474.90" stroke-width="3.6" stroke-linecap="butt"/>
<line stroke="#000" x1="1433.00" y1="474.90" x2="1475.20" y2="474.90" stroke-width="3.6" stroke-linecap="butt"/>
<line stroke="#000" x1="1375.20" y1="453.90" x2="1375.20" y2="464.50" stroke-width="1.9" stroke-linecap="round"/>
<circle cx="1375.20" cy="453.90" r="1.6"/><circle cx="1375.20" cy="464.50" r="1.6"/>
<line stroke="#000" x1="1370.52" y1="456.71" x2="1379.88" y2="461.69" stroke-width="1.9" stroke-linecap="round"/>
<circle cx="1370.52" cy="456.71" r="1.6"/><circle cx="1379.88" cy="461.69" r="1.6"/>
<line stroke="#000" x1="1370.52" y1="461.69" x2="1379.88" y2="456.71" stroke-width="1.9" stroke-linecap="round"/>
<circle cx="1370.52" cy="461.69" r="1.6"/><circle cx="1379.88" cy="456.71" r="1.6"/>
<line stroke="#000" x1="1452.90" y1="453.90" x2="1452.90" y2="464.50" stroke-width="1.9" stroke-linecap="round"/>
<circle cx="1452.90" cy="453.90" r="1.6"/><circle cx="1452.90" cy="464.50" r="1.6"/>
<line stroke="#000" x1="1448.22" y1="456.71" x2="1457.58" y2="461.69" stroke-width="1.9" stroke-linecap="round"/>
<circle cx="1448.22" cy="456.71" r="1.6"/><circle cx="1457.58" cy="461.69" r="1.6"/>
<line stroke="#000" x1="1448.22" y1="461.69" x2="1457.58" y2="456.71" stroke-width="1.9" stroke-linecap="round"/>
<circle cx="1448.22" cy="461.69" r="1.6"/><circle cx="1457.58" cy="456.71" r="1.6"/>
<text x="1307.18" y="764.20" font-size="33" textLength="84.53" lengthAdjust="spacingAndGlyphs">Sham</text>
<text x="1417.87" y="764.20" font-size="33" textLength="64.62" lengthAdjust="spacingAndGlyphs">WHI</text>
<text transform="translate(1197.60,606.60) rotate(-90)" x="-2.08" y="0" font-size="34" textLength="33.16" lengthAdjust="spacingAndGlyphs">EF</text>
<text transform="translate(1197.60,564.80) rotate(-90)" x="-1.87" y="0" font-size="34" textLength="48.39" lengthAdjust="spacingAndGlyphs">(%)</text>
<line stroke="#000" x1="160.50" y1="856.50" x2="160.50" y2="1132.70" stroke-width="3.5" stroke-linecap="butt"/>
<line stroke="#000" x1="149.90" y1="856.80" x2="160.50" y2="856.80" stroke-width="3.5" stroke-linecap="butt"/>
<line stroke="#000" x1="149.90" y1="925.00" x2="160.50" y2="925.00" stroke-width="3.5" stroke-linecap="butt"/>
<line stroke="#000" x1="149.90" y1="993.90" x2="160.50" y2="993.90" stroke-width="3.5" stroke-linecap="butt"/>
<line stroke="#000" x1="149.90" y1="1063.90" x2="160.50" y2="1063.90" stroke-width="3.5" stroke-linecap="butt"/>
<line stroke="#000" x1="149.90" y1="1132.70" x2="355.60" y2="1132.70" stroke-width="3.5" stroke-linecap="butt"/>
<text x="130.16" y="866.60" font-size="30.8" text-anchor="end">8000</text>
<text x="130.16" y="934.80" font-size="30.8" text-anchor="end">7000</text>
<text x="130.16" y="1003.70" font-size="30.8" text-anchor="end">6000</text>
<text x="130.16" y="1073.70" font-size="30.8" text-anchor="end">5000</text>
<text x="130.16" y="1142.50" font-size="30.8" text-anchor="end">4000</text>
<line stroke="#000" x1="192.70" y1="929.30" x2="192.70" y2="898.60" stroke-width="3.4" stroke-linecap="butt"/>
<line stroke="#000" x1="184.20" y1="898.60" x2="201.20" y2="898.60" stroke-width="3.4" stroke-linecap="butt"/>
<rect x="182.50" y="930.00" width="21.00" height="202.70" fill="#b3b3b3" stroke="#000" stroke-width="3.4" stroke-linejoin="round"/>
<line stroke="#000" x1="225.40" y1="921.30" x2="225.40" y2="895.30" stroke-width="3.4" stroke-linecap="butt"/>
<line stroke="#000" x1="216.90" y1="895.30" x2="233.90" y2="895.30" stroke-width="3.4" stroke-linecap="butt"/>
<rect x="214.20" y="922.00" width="22.10" height="210.70" fill="#000" stroke="#000" stroke-width="3.4" stroke-linejoin="round"/>
<line stroke="#000" x1="290.30" y1="1036.30" x2="290.30" y2="1019.00" stroke-width="3.4" stroke-linecap="butt"/>
<line stroke="#000" x1="281.80" y1="1019.00" x2="298.80" y2="1019.00" stroke-width="3.4" stroke-linecap="butt"/>
<rect x="279.80" y="1037.00" width="20.70" height="95.70" fill="#b3b3b3" stroke="#000" stroke-width="3.4" stroke-linejoin="round"/>
<line stroke="#000" x1="322.40" y1="938.20" x2="322.40" y2="922.60" stroke-width="3.4" stroke-linecap="butt"/>
<line stroke="#000" x1="313.90" y1="922.60" x2="330.90" y2="922.60" stroke-width="3.4" stroke-linecap="butt"/>
<rect x="312.20" y="938.90" width="21.30" height="193.80" fill="#000" stroke="#000" stroke-width="3.4" stroke-linejoin="round"/>
<line stroke="#000" x1="186.80" y1="846.50" x2="291.00" y2="846.50" stroke-width="3.6" stroke-linecap="butt"/>
<line stroke="#000" x1="301.80" y1="846.50" x2="343.50" y2="846.50" stroke-width="3.6" stroke-linecap="butt"/>
<line stroke="#000" x1="243.90" y1="825.60" x2="243.90" y2="836.20" stroke-width="1.9" stroke-linecap="round"/>
<circle cx="243.90" cy="825.60" r="1.6"/><circle cx="243.90" cy="836.20" r="1.6"/>
<line stroke="#000" x1="239.22" y1="828.41" x2="248.58" y2="833.39" stroke-width="1.9" stroke-linecap="round"/>
<circle cx="239.22" cy="828.41" r="1.6"/><circle cx="248.58" cy="833.39" r="1.6"/>
<line stroke="#000" x1="239.22" y1="833.39" x2="248.58" y2="828.41" stroke-width="1.9" stroke-linecap="round"/>
<circle cx="239.22" cy="833.39" r="1.6"/><circle cx="248.58" cy="828.41" r="1.6"/>
<line stroke="#000" x1="321.30" y1="825.60" x2="321.30" y2="836.20" stroke-width="1.9" stroke-linecap="round"/>
<circle cx="321.30" cy="825.60" r="1.6"/><circle cx="321.30" cy="836.20" r="1.6"/>
<line stroke="#000" x1="316.62" y1="828.41" x2="325.98" y2="833.39" stroke-width="1.9" stroke-linecap="round"/>
<circle cx="316.62" cy="828.41" r="1.6"/><circle cx="325.98" cy="833.39" r="1.6"/>
<line stroke="#000" x1="316.62" y1="833.39" x2="325.98" y2="828.41" stroke-width="1.9" stroke-linecap="round"/>
<circle cx="316.62" cy="833.39" r="1.6"/><circle cx="325.98" cy="828.41" r="1.6"/>
<text x="165.70" y="1170.00" font-size="33" textLength="83.80" lengthAdjust="spacingAndGlyphs">Sham</text>
<text x="276.37" y="1170.00" font-size="33" textLength="63.57" lengthAdjust="spacingAndGlyphs">WHI</text>
<text transform="translate(30.40,1117.30) rotate(-90)" x="-1.75" y="0" font-size="34" textLength="102.26" lengthAdjust="spacingAndGlyphs">+dP/dt</text>
<text transform="translate(30.40,1005.20) rotate(-90)" x="-2.06" y="0" font-size="34" textLength="150.75" lengthAdjust="spacingAndGlyphs">(mmHg/s)</text>
<line stroke="#000" x1="552.30" y1="849.90" x2="552.30" y2="1126.30" stroke-width="3.5" stroke-linecap="butt"/>
<line stroke="#000" x1="542.00" y1="850.20" x2="552.30" y2="850.20" stroke-width="3.5" stroke-linecap="butt"/>
<line stroke="#000" x1="542.00" y1="919.20" x2="552.30" y2="919.20" stroke-width="3.5" stroke-linecap="butt"/>
<line stroke="#000" x1="542.00" y1="988.80" x2="552.30" y2="988.80" stroke-width="3.5" stroke-linecap="butt"/>
<line stroke="#000" x1="542.00" y1="1057.70" x2="552.30" y2="1057.70" stroke-width="3.5" stroke-linecap="butt"/>
<line stroke="#000" x1="542.00" y1="1126.30" x2="747.60" y2="1126.30" stroke-width="3.5" stroke-linecap="butt"/>
<text x="522.06" y="860.00" font-size="30.8" text-anchor="end">8000</text>
<text x="522.06" y="929.00" font-size="30.8" text-anchor="end">7000</text>
<text x="522.06" y="998.60" font-size="30.8" text-anchor="end">6000</text>
<text x="522.06" y="1067.50" font-size="30.8" text-anchor="end">5000</text>
<text x="522.06" y="1136.10" font-size="30.8" text-anchor="end">4000</text>
<line stroke="#000" x1="585.20" y1="955.00" x2="585.20" y2="913.00" stroke-width="3.4" stroke-linecap="butt"/>
<line stroke="#000" x1="576.70" y1="913.00" x2="593.70" y2="913.00" stroke-width="3.4" stroke-linecap="butt"/>
<rect x="574.70" y="955.70" width="20.50" height="170.60" fill="#b3b3b3" stroke="#000" stroke-width="3.4" stroke-linejoin="round"/>
<line stroke="#000" x1="618.20" y1="957.50" x2="618.20" y2="918.00" stroke-width="3.4" stroke-linecap="butt"/>
<line stroke="#000" x1="609.70" y1="918.00" x2="626.70" y2="918.00" stroke-width="3.4" stroke-linecap="butt"/>
<rect x="607.20" y="958.20" width="21.00" height="168.10" fill="#000" stroke="#000" stroke-width="3.4" stroke-linejoin="round"/>
<line stroke="#000" x1="683.00" y1="1068.20" x2="683.00" y2="1028.20" stroke-width="3.4" stroke-linecap="butt"/>
<line stroke="#000" x1="674.50" y1="1028.20" x2="691.50" y2="1028.20" stroke-width="3.4" stroke-linecap="butt"/>
<rect x="673.10" y="1068.90" width="20.70" height="57.40" fill="#b3b3b3" stroke="#000" stroke-width="3.4" stroke-linejoin="round"/>
<line stroke="#000" x1="716.00" y1="993.00" x2="716.00" y2="954.30" stroke-width="3.4" stroke-linecap="butt"/>
<line stroke="#000" x1="707.50" y1="954.30" x2="724.50" y2="954.30" stroke-width="3.4" stroke-linecap="butt"/>
<rect x="705.20" y="993.70" width="21.70" height="132.60" fill="#000" stroke="#000" stroke-width="3.4" stroke-linejoin="round"/>
<line stroke="#000" x1="571.10" y1="846.50" x2="675.10" y2="846.50" stroke-width="3.6" stroke-linecap="butt"/>
<line stroke="#000" x1="685.40" y1="846.50" x2="727.40" y2="846.50" stroke-width="3.6" stroke-linecap="butt"/>
<line stroke="#000" x1="627.70" y1="825.70" x2="627.70" y2="836.30" stroke-width="1.9" stroke-linecap="round"/>
<circle cx="627.70" cy="825.70" r="1.6"/><circle cx="627.70" cy="836.30" r="1.6"/>
<line stroke="#000" x1="623.02" y1="828.51" x2="632.38" y2="833.49" stroke-width="1.9" stroke-linecap="round"/>
<circle cx="623.02" cy="828.51" r="1.6"/><circle cx="632.38" cy="833.49" r="1.6"/>
<line stroke="#000" x1="623.02" y1="833.49" x2="632.38" y2="828.51" stroke-width="1.9" stroke-linecap="round"/>
<circle cx="623.02" cy="833.49" r="1.6"/><circle cx="632.38" cy="828.51" r="1.6"/>
<line stroke="#000" x1="705.20" y1="825.70" x2="705.20" y2="836.30" stroke-width="1.9" stroke-linecap="round"/>
<circle cx="705.20" cy="825.70" r="1.6"/><circle cx="705.20" cy="836.30" r="1.6"/>
<line stroke="#000" x1="700.52" y1="828.51" x2="709.88" y2="833.49" stroke-width="1.9" stroke-linecap="round"/>
<circle cx="700.52" cy="828.51" r="1.6"/><circle cx="709.88" cy="833.49" r="1.6"/>
<line stroke="#000" x1="700.52" y1="833.49" x2="709.88" y2="828.51" stroke-width="1.9" stroke-linecap="round"/>
<circle cx="700.52" cy="833.49" r="1.6"/><circle cx="709.88" cy="828.51" r="1.6"/>
<text x="562.98" y="1169.90" font-size="33" textLength="84.43" lengthAdjust="spacingAndGlyphs">Sham</text>
<text x="674.07" y="1169.90" font-size="33" textLength="63.26" lengthAdjust="spacingAndGlyphs">WHI</text>
<text transform="translate(433.70,1113.70) rotate(-90)" x="-1.42" y="0" font-size="34" textLength="94.70" lengthAdjust="spacingAndGlyphs">-dP/dt</text>
<text transform="translate(433.70,1009.60) rotate(-90)" x="-2.05" y="0" font-size="34" textLength="150.03" lengthAdjust="spacingAndGlyphs">(mmHg/s)</text>
<line stroke="#000" x1="896.70" y1="849.30" x2="896.70" y2="1131.70" stroke-width="3.5" stroke-linecap="butt"/>
<line stroke="#000" x1="886.20" y1="849.60" x2="896.70" y2="849.60" stroke-width="3.5" stroke-linecap="butt"/>
<line stroke="#000" x1="886.20" y1="943.20" x2="896.70" y2="943.20" stroke-width="3.5" stroke-linecap="butt"/>
<line stroke="#000" x1="886.20" y1="1037.30" x2="896.70" y2="1037.30" stroke-width="3.5" stroke-linecap="butt"/>
<line stroke="#000" x1="886.20" y1="1131.70" x2="1092.50" y2="1131.70" stroke-width="3.5" stroke-linecap="butt"/>
<text x="866.10" y="859.40" font-size="30.8" text-anchor="end">15</text>
<text x="865.79" y="953.00" font-size="30.8" text-anchor="end">10</text>
<text x="866.22" y="1047.10" font-size="30.8" text-anchor="end">5</text>
<text x="865.91" y="1141.50" font-size="30.8" text-anchor="end">0</text>
<line stroke="#000" x1="929.50" y1="900.40" x2="929.50" y2="866.00" stroke-width="3.4" stroke-linecap="butt"/>
<line stroke="#000" x1="921.00" y1="866.00" x2="938.00" y2="866.00" stroke-width="3.4" stroke-linecap="butt"/>
<rect x="919.30" y="901.10" width="21.20" height="230.60" fill="#b3b3b3" stroke="#000" stroke-width="3.4" stroke-linejoin="round"/>
<line stroke="#000" x1="962.30" y1="895.70" x2="962.30" y2="868.00" stroke-width="3.4" stroke-linecap="butt"/>
<line stroke="#000" x1="953.80" y1="868.00" x2="970.80" y2="868.00" stroke-width="3.4" stroke-linecap="butt"/>
<rect x="951.60" y="896.40" width="21.60" height="235.30" fill="#000" stroke="#000" stroke-width="3.4" stroke-linejoin="round"/>
<line stroke="#000" x1="1027.30" y1="983.00" x2="1027.30" y2="958.90" stroke-width="3.4" stroke-linecap="butt"/>
<line stroke="#000" x1="1018.80" y1="958.90" x2="1035.80" y2="958.90" stroke-width="3.4" stroke-linecap="butt"/>
<rect x="1017.00" y="983.70" width="21.50" height="148.00" fill="#b3b3b3" stroke="#000" stroke-width="3.4" stroke-linejoin="round"/>
<line stroke="#000" x1="1060.30" y1="900.80" x2="1060.30" y2="878.80" stroke-width="3.4" stroke-linecap="butt"/>
<line stroke="#000" x1="1051.80" y1="878.80" x2="1068.80" y2="878.80" stroke-width="3.4" stroke-linecap="butt"/>
<rect x="1049.90" y="901.50" width="21.60" height="230.20" fill="#000" stroke="#000" stroke-width="3.4" stroke-linejoin="round"/>
<line stroke="#000" x1="924.20" y1="846.60" x2="1027.90" y2="846.60" stroke-width="3.6" stroke-linecap="butt"/>
<line stroke="#000" x1="1039.70" y1="846.60" x2="1081.10" y2="846.60" stroke-width="3.6" stroke-linecap="butt"/>
<line stroke="#000" x1="981.70" y1="826.60" x2="981.70" y2="837.20" stroke-width="1.9" stroke-linecap="round"/>
<circle cx="981.70" cy="826.60" r="1.6"/><circle cx="981.70" cy="837.20" r="1.6"/>
<line stroke="#000" x1="977.02" y1="829.41" x2="986.38" y2="834.39" stroke-width="1.9" stroke-linecap="round"/>
<circle cx="977.02" cy="829.41" r="1.6"/><circle cx="986.38" cy="834.39" r="1.6"/>
<line stroke="#000" x1="977.02" y1="834.39" x2="986.38" y2="829.41" stroke-width="1.9" stroke-linecap="round"/>
<circle cx="977.02" cy="834.39" r="1.6"/><circle cx="986.38" cy="829.41" r="1.6"/>
<line stroke="#000" x1="1059.10" y1="826.60" x2="1059.10" y2="837.20" stroke-width="1.9" stroke-linecap="round"/>
<circle cx="1059.10" cy="826.60" r="1.6"/><circle cx="1059.10" cy="837.20" r="1.6"/>
<line stroke="#000" x1="1054.42" y1="829.41" x2="1063.78" y2="834.39" stroke-width="1.9" stroke-linecap="round"/>
<circle cx="1054.42" cy="829.41" r="1.6"/><circle cx="1063.78" cy="834.39" r="1.6"/>
<line stroke="#000" x1="1054.42" y1="834.39" x2="1063.78" y2="829.41" stroke-width="1.9" stroke-linecap="round"/>
<circle cx="1054.42" cy="834.39" r="1.6"/><circle cx="1063.78" cy="829.41" r="1.6"/>
<text x="908.10" y="1169.80" font-size="33" textLength="83.80" lengthAdjust="spacingAndGlyphs">Sham</text>
<text x="1018.87" y="1169.80" font-size="33" textLength="64.20" lengthAdjust="spacingAndGlyphs">WHI</text>
<text transform="translate(817.20,1079.40) rotate(-90)" x="-1.44" y="0" font-size="34" textLength="43.29" lengthAdjust="spacingAndGlyphs">CO</text>
<text transform="translate(817.20,1026.60) rotate(-90)" x="-2.19" y="0" font-size="34" textLength="131.48" lengthAdjust="spacingAndGlyphs">(ml/min)</text>
<line stroke="#000" x1="1296.80" y1="843.50" x2="1296.80" y2="1126.30" stroke-width="3.5" stroke-linecap="butt"/>
<line stroke="#000" x1="1286.30" y1="843.80" x2="1296.80" y2="843.80" stroke-width="3.5" stroke-linecap="butt"/>
<line stroke="#000" x1="1286.30" y1="900.70" x2="1296.80" y2="900.70" stroke-width="3.5" stroke-linecap="butt"/>
<line stroke="#000" x1="1286.30" y1="957.00" x2="1296.80" y2="957.00" stroke-width="3.5" stroke-linecap="butt"/>
<line stroke="#000" x1="1286.30" y1="1013.20" x2="1296.80" y2="1013.20" stroke-width="3.5" stroke-linecap="butt"/>
<line stroke="#000" x1="1286.30" y1="1069.50" x2="1296.80" y2="1069.50" stroke-width="3.5" stroke-linecap="butt"/>
<line stroke="#000" x1="1286.30" y1="1126.30" x2="1493.30" y2="1126.30" stroke-width="3.5" stroke-linecap="butt"/>
<text x="1265.49" y="853.60" font-size="30.8" text-anchor="end">10</text>
<text x="1265.92" y="910.50" font-size="30.8" text-anchor="end">8</text>
<text x="1265.92" y="966.80" font-size="30.8" text-anchor="end">6</text>
<text x="1265.30" y="1023.00" font-size="30.8" text-anchor="end">4</text>
<text x="1265.92" y="1079.30" font-size="30.8" text-anchor="end">2</text>
<text x="1265.61" y="1136.10" font-size="30.8" text-anchor="end">0</text>
<line stroke="#000" x1="1329.40" y1="1013.60" x2="1329.40" y2="998.90" stroke-width="3.4" stroke-linecap="butt"/>
<line stroke="#000" x1="1320.90" y1="998.90" x2="1337.90" y2="998.90" stroke-width="3.4" stroke-linecap="butt"/>
<rect x="1317.80" y="1014.30" width="21.80" height="112.00" fill="#b3b3b3" stroke="#000" stroke-width="3.4" stroke-linejoin="round"/>
<line stroke="#000" x1="1362.30" y1="1014.00" x2="1362.30" y2="1001.40" stroke-width="3.4" stroke-linecap="butt"/>
<line stroke="#000" x1="1353.80" y1="1001.40" x2="1370.80" y2="1001.40" stroke-width="3.4" stroke-linecap="butt"/>
<rect x="1351.50" y="1014.70" width="21.80" height="111.60" fill="#000" stroke="#000" stroke-width="3.4" stroke-linejoin="round"/>
<line stroke="#000" x1="1428.20" y1="912.40" x2="1428.20" y2="898.00" stroke-width="3.4" stroke-linecap="butt"/>
<line stroke="#000" x1="1419.70" y1="898.00" x2="1436.70" y2="898.00" stroke-width="3.4" stroke-linecap="butt"/>
<rect x="1417.60" y="913.10" width="20.80" height="213.20" fill="#b3b3b3" stroke="#000" stroke-width="3.4" stroke-linejoin="round"/>
<line stroke="#000" x1="1461.50" y1="990.40" x2="1461.50" y2="979.30" stroke-width="3.4" stroke-linecap="butt"/>
<line stroke="#000" x1="1453.00" y1="979.30" x2="1470.00" y2="979.30" stroke-width="3.4" stroke-linecap="butt"/>
<rect x="1449.30" y="991.10" width="21.80" height="135.20" fill="#000" stroke="#000" stroke-width="3.4" stroke-linejoin="round"/>
<line stroke="#000" x1="1318.10" y1="873.00" x2="1421.80" y2="873.00" stroke-width="3.6" stroke-linecap="butt"/>
<line stroke="#000" x1="1433.10" y1="873.00" x2="1475.40" y2="873.00" stroke-width="3.6" stroke-linecap="butt"/>
<line stroke="#000" x1="1375.10" y1="853.50" x2="1375.10" y2="864.10" stroke-width="1.9" stroke-linecap="round"/>
<circle cx="1375.10" cy="853.50" r="1.6"/><circle cx="1375.10" cy="864.10" r="1.6"/>
<line stroke="#000" x1="1370.42" y1="856.31" x2="1379.78" y2="861.29" stroke-width="1.9" stroke-linecap="round"/>
<circle cx="1370.42" cy="856.31" r="1.6"/><circle cx="1379.78" cy="861.29" r="1.6"/>
<line stroke="#000" x1="1370.42" y1="861.29" x2="1379.78" y2="856.31" stroke-width="1.9" stroke-linecap="round"/>
<circle cx="1370.42" cy="861.29" r="1.6"/><circle cx="1379.78" cy="856.31" r="1.6"/>
<line stroke="#000" x1="1452.70" y1="853.50" x2="1452.70" y2="864.10" stroke-width="1.9" stroke-linecap="round"/>
<circle cx="1452.70" cy="853.50" r="1.6"/><circle cx="1452.70" cy="864.10" r="1.6"/>
<line stroke="#000" x1="1448.02" y1="856.31" x2="1457.38" y2="861.29" stroke-width="1.9" stroke-linecap="round"/>
<circle cx="1448.02" cy="856.31" r="1.6"/><circle cx="1457.38" cy="861.29" r="1.6"/>
<line stroke="#000" x1="1448.02" y1="861.29" x2="1457.38" y2="856.31" stroke-width="1.9" stroke-linecap="round"/>
<circle cx="1448.02" cy="861.29" r="1.6"/><circle cx="1457.38" cy="856.31" r="1.6"/>
<text x="1307.49" y="1170.20" font-size="33" textLength="84.01" lengthAdjust="spacingAndGlyphs">Sham</text>
<text x="1417.97" y="1170.20" font-size="33" textLength="64.62" lengthAdjust="spacingAndGlyphs">WHI</text>
<text transform="translate(1212.00,1063.50) rotate(-90)" x="-2.43" y="0" font-size="34" textLength="97.30" lengthAdjust="spacingAndGlyphs">LVEDP</text>
<text transform="translate(1212.00,960.10) rotate(-90)" x="-2.06" y="0" font-size="34" textLength="123.72" lengthAdjust="spacingAndGlyphs">(mmHg)</text>
</svg>
</body></html>
